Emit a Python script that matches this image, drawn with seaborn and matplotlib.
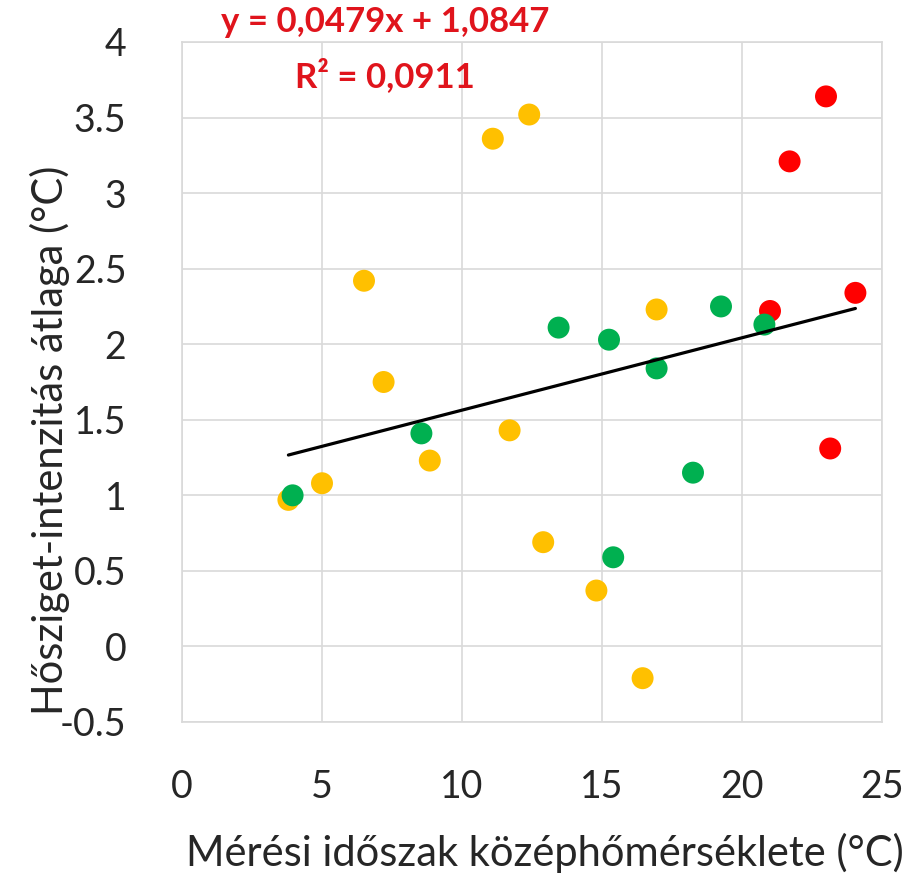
import matplotlib
matplotlib.use("Agg")
import matplotlib.pyplot as plt
import matplotlib.ticker as mticker
import numpy as np
import pandas as pd
import seaborn as sns

# ---- data ----
yellow_x = [3.8, 5.0, 6.5, 7.2, 8.85, 11.1, 12.4, 11.7, 12.9, 14.8, 16.45, 16.95]
yellow_y = [0.97, 1.08, 2.42, 1.75, 1.23, 3.36, 3.52, 1.43, 0.69, 0.37, -0.21, 2.23]
red_x = [21.0, 21.7, 23.0, 23.15, 24.05]
red_y = [2.22, 3.21, 3.64, 1.31, 2.34]
green_x = [3.95, 8.55, 13.45, 15.25, 15.4, 16.95, 18.25, 19.25, 20.8]
green_y = [1.0, 1.41, 2.11, 2.03, 0.59, 1.84, 1.15, 2.25, 2.13]

slope = 0.0479
intercept = 1.0847
r2 = 0.0911

x_ticks = [0, 5, 10, 15, 20, 25]
y_ticks = [-0.5, 0, 0.5, 1, 1.5, 2, 2.5, 3, 3.5, 4]

xlabel = "Mérési időszak középhőmérséklete (°C)"
ylabel = "Hősziget-intenzitás átlaga (°C)"

# ---- frame ----
df = pd.concat([
    pd.DataFrame({"x": yellow_x, "y": yellow_y, "g": "yellow"}),
    pd.DataFrame({"x": red_x, "y": red_y, "g": "red"}),
    pd.DataFrame({"x": green_x, "y": green_y, "g": "green"}),
], ignore_index=True)
palette = {"yellow": "#FFC000", "red": "#FF0000", "green": "#00B050"}

sns.set_style("white")
plt.rcParams["font.family"] = ["Lato", "DejaVu Sans"]
plt.rcParams["axes.unicode_minus"] = False

fig = plt.figure(figsize=(9.08, 8.75), dpi=100)
ax = fig.add_axes([182 / 908, 1 - 722 / 875, 700 / 908, 680 / 875])

sns.scatterplot(data=df, x="x", y="y", hue="g", palette=palette, s=250,
                linewidth=0, legend=False, ax=ax, zorder=3)

all_x = np.array(yellow_x + red_x + green_x)
line_x = np.array([all_x.min(), all_x.max()])
line_df = pd.DataFrame({"x": line_x, "y": slope * line_x + intercept})
sns.lineplot(data=line_df, x="x", y="y", color="black", linewidth=2.3, ax=ax, zorder=4)

ax.set_xlim(0, 25)
ax.set_ylim(-0.5, 4)
ax.set_xticks(x_ticks)
ax.set_yticks(y_ticks)
ax.yaxis.set_major_formatter(mticker.FuncFormatter(lambda v, p: f"{v:g}"))
ax.grid(True, color="#D9D9D9", linewidth=1.2)
ax.set_axisbelow(True)
for s in ax.spines.values():
    s.set_color("#D9D9D9")
    s.set_linewidth(1.2)
ax.tick_params(axis="both", length=0, labelsize=27, colors="#262626")
ax.tick_params(axis="x", pad=34)
ax.tick_params(axis="y", pad=40)
ax.set_xlabel("")
ax.set_ylabel("")

fig.text(545 / 908, 1 - 853 / 875, xlabel, fontsize=30, color="#262626",
         ha="center", va="center")
fig.text(50 / 908, 1 - 440 / 875, ylabel, fontsize=30, color="#262626",
         ha="center", va="center", rotation=90)

eq_text = f"y = {slope:.4f}x + {intercept:.4f}".replace(".", ",")
r2_text = "R² = " + f"{r2:.4f}".replace(".", ",")
fig.text(385 / 908, 1 - 22 / 875, eq_text, fontsize=25, color="#E0141C",
         fontweight="bold", ha="center", va="center")
fig.text(385 / 908, 1 - 76 / 875, r2_text,
         fontsize=25, color="#E0141C", fontweight="bold", ha="center", va="center")

fig.savefig("out.png", dpi=100)
